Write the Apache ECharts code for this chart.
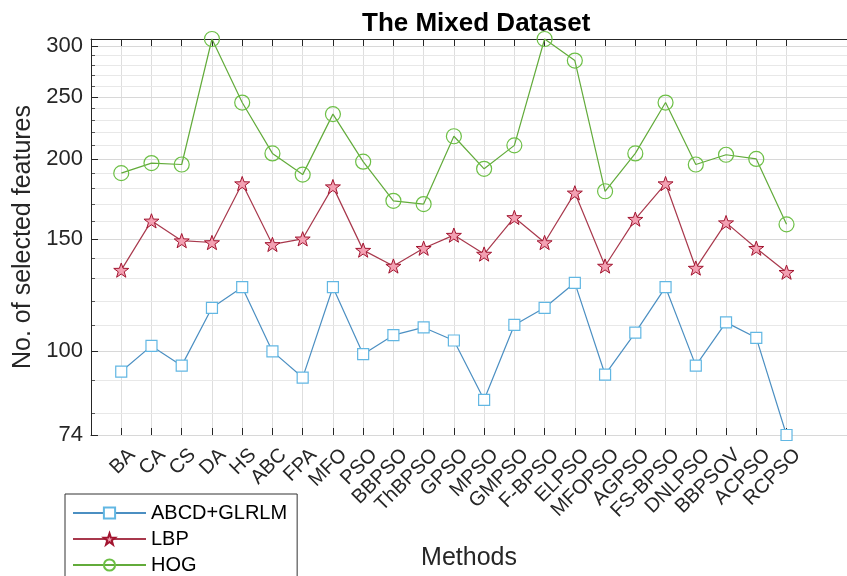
<!DOCTYPE html>
<html>
<head>
<meta charset="utf-8">
<script src="https://cdn.jsdelivr.net/npm/echarts@6/dist/echarts.min.js"></script>
<style>html,body{margin:0;padding:0;background:#fff}#c{width:847px;height:576px}</style>
</head>
<body>
<div id="c"></div>
<script>
const categories = ['BA','CA','CS','DA','HS','ABC','FPA','MFO','PSO','BBPSO','ThBPSO','GPSO','MPSO','GMPSO','F-BPSO','ELPSO','MFOPSO','AGPSO','FS-BPSO','DNLPSO','BBPSOV','ACPSO','RCPSO'];
const abcdGlrlm = [93,102,95,117,126,100,91,126,99,106,109,104,84,110,117,128,92,107,126,95,111,105,74];
const lbp = [134,160,149,148,183,147,150,181,144,136,145,152,142,162,148,177,136,161,183,135,159,145,133];
const hog = [190,197,196,308,245,204,189,235,198,172,170,217,193,210,308,285,178,204,245,196,203,200,158];
const yMajorTicks = [74,100,150,200,250,300];
const yMinorTicks = [80,90,110,120,130,140,160,170,180,190,210,220,230,240,260,270,280,290];
const xTickPositions = categories.map((c, i) => i + 1);

// rotated labels sit slightly right of their tick (as in the reference)
const LABEL_SHIFT = 0.36;
const xLabelPositions = xTickPositions.map(v => v + LABEL_SHIFT);

const FONT = '"Liberation Sans", Arial, sans-serif';
const AX = '#262626';
const star = 'path://M100,0 L123.5,67.6 L195.1,69.1 L138,112.4 L158.8,180.9 L100,140 L41.2,180.9 L62,112.4 L4.9,69.1 L76.5,67.6 Z';
const toPairs = arr => arr.map((v, i) => [i + 1, v]);

const chart = echarts.init(document.getElementById('c'), null, {renderer: 'canvas'});
chart.setOption({
  animation: false,
  backgroundColor: '#fff',
  title: {
    text: 'The Mixed Dataset',
    left: 357, top: 6,
    textStyle: {fontFamily: FONT, fontSize: 26, fontWeight: 'bold', color: '#000'}
  },
  grid: {left: 91, top: 39, width: 766, height: 396},
  legend: {
    orient: 'vertical', left: 65, top: 494, height: 200,
    itemWidth: 73, itemHeight: 14, itemGap: 6,
    borderColor: '#333', borderWidth: 1, backgroundColor: '#fff',
    padding: [9, 10, 40, 7],
    textStyle: {fontFamily: FONT, fontSize: 20, color: '#000'},
    data: ['ABCD+GLRLM', 'LBP', 'HOG']
  },
  xAxis: [{
    type: 'value', min: 0, max: 25, position: 'bottom',
    name: 'Methods', nameLocation: 'middle', nameGap: 111,
    nameTextStyle: {fontFamily: FONT, fontSize: 25, color: AX},
    axisLine: {show: true, lineStyle: {color: AX, width: 1}},
    axisTick: {show: true, inside: true, length: 7, customValues: xTickPositions, lineStyle: {color: AX}},
    axisLabel: {show: true, customValues: xLabelPositions, rotate: 45, margin: 17,
      fontFamily: FONT, fontSize: 20, color: AX,
      formatter: v => categories[Math.round(v - LABEL_SHIFT) - 1] || ''},
    splitLine: {show: true, lineStyle: {color: '#dedede', width: 1}}
  }, {
    type: 'value', min: 0, max: 25, position: 'top',
    axisLine: {show: true, lineStyle: {color: AX, width: 1}},
    axisTick: {show: true, inside: true, length: 7, customValues: xTickPositions, lineStyle: {color: AX}},
    axisLabel: {show: false},
    splitLine: {show: false}
  }],
  yAxis: [{
    type: 'log', logBase: 10, min: 74, max: 308, position: 'left',
    name: 'No. of selected features', nameLocation: 'middle', nameGap: 52,
    nameTextStyle: {fontFamily: FONT, fontSize: 25, color: AX},
    axisLine: {show: true, lineStyle: {color: AX, width: 1}},
    axisTick: {show: true, inside: true, length: 7, customValues: yMajorTicks, lineStyle: {color: AX}},
    axisLabel: {show: true, customValues: yMajorTicks, margin: 8,
      fontFamily: FONT, fontSize: 22, color: AX, formatter: v => String(Math.round(v))},
    splitLine: {show: true, lineStyle: {color: '#d8d8d8', width: 1}},
    z: 3
  }, {
    type: 'log', logBase: 10, min: 74, max: 308, position: 'left', offset: 0,
    axisLine: {show: false},
    axisTick: {show: true, inside: true, length: 4, customValues: yMinorTicks, lineStyle: {color: '#555'}},
    axisLabel: {show: false, customValues: yMinorTicks},
    splitLine: {show: true, lineStyle: {color: '#e8e8e8', width: 1}},
    z: 1
  }],
  series: [{
    name: 'ABCD+GLRLM', type: 'line', xAxisIndex: 0, yAxisIndex: 0,
    data: toPairs(abcdGlrlm), clip: false,
    symbol: 'rect', symbolSize: 11,
    lineStyle: {color: '#4b8fc2', width: 1.2},
    itemStyle: {color: '#ffffff', borderColor: '#62b7e3', borderWidth: 1.2, opacity: 1},
    z: 5
  }, {
    name: 'LBP', type: 'line', xAxisIndex: 0, yAxisIndex: 0,
    data: toPairs(lbp), clip: false,
    symbol: star, symbolSize: 15, symbolKeepAspect: true,
    lineStyle: {color: '#a8384c', width: 1.2},
    itemStyle: {color: '#f3a0b2', borderColor: '#a2142f', borderWidth: 1},
    z: 5
  }, {
    name: 'HOG', type: 'line', xAxisIndex: 0, yAxisIndex: 0,
    data: toPairs(hog), clip: false,
    symbol: 'circle', symbolSize: 15,
    lineStyle: {color: '#62ab3a', width: 1.2},
    itemStyle: {color: 'rgba(255,255,255,0)', borderColor: '#6cbf45', borderWidth: 1.2},
    z: 5
  }]
});
</script>
</body>
</html>
